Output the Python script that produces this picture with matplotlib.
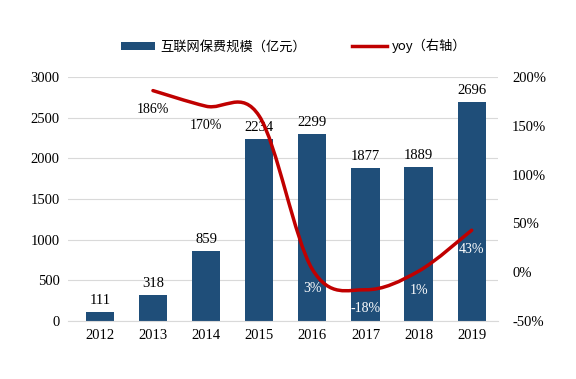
import matplotlib
matplotlib.use('Agg')
import matplotlib.pyplot as plt
from matplotlib.path import Path
from matplotlib.patches import PathPatch, Patch
from matplotlib.lines import Line2D
import numpy as np

years = ['2012', '2013', '2014', '2015', '2016', '2017', '2018', '2019']
premium = [111, 318, 859, 2234, 2299, 1877, 1889, 2696]
yoy_years = ['2013', '2014', '2015', '2016', '2017', '2018', '2019']
yoy = [186, 170, 160, 3, -18, 1, 43]
yoy_labels = ['186%', '170%', '', '3%', '-18%', '1%', '43%']

BAR = '#1f4e79'
RED = '#c00000'
serif = ['Liberation Serif', 'DejaVu Serif']
cjk = ['Noto Sans CJK SC', 'DejaVu Sans']

fig = plt.figure(figsize=(5.76, 3.79), dpi=100)
ax = fig.add_axes([0.118, 0.153, 0.747, 0.644])
x = np.arange(len(years))
ax.bar(x, premium, width=0.53, color=BAR, zorder=2)
ax.set_xlim(-0.6, 7.5)
ax.set_ylim(0, 3000)
ax.set_yticks(range(0, 3001, 500))
ax.grid(axis='y', color='#d9d9d9', linewidth=0.8, zorder=0)
for s in ax.spines.values():
    s.set_visible(False)
ax.spines['bottom'].set_visible(True)
ax.spines['bottom'].set_color('#d9d9d9')
ax.tick_params(length=0, labelsize=10.5, pad=6)
ax.set_xticks(x)
ax.set_xticklabels(years)
for lab in ax.get_xticklabels() + ax.get_yticklabels():
    lab.set_family(serif)
for xi, v in zip(x, premium):
    ax.text(xi, v + 60, str(v), ha='center', va='bottom', fontsize=10.5, family=serif)

ax2 = ax.twinx()
ax2.set_ylim(-50, 200)
ax2.set_yticks(range(-50, 201, 50))
ax2.set_yticklabels([f'{t}%' for t in range(-50, 201, 50)])
for s in ax2.spines.values():
    s.set_visible(False)
ax2.tick_params(length=0, labelsize=10.5, pad=10)
for lab in ax2.get_yticklabels():
    lab.set_family(serif)

# smoothed line (Catmull-Rom drawn as cubic Bezier segments)
px = np.array([years.index(y) for y in yoy_years], dtype=float)
py = np.array(yoy, dtype=float)
pts = np.column_stack([px, py])
verts = [pts[0]]
codes = [Path.MOVETO]
n = len(pts)
for i in range(n - 1):
    p0 = pts[i - 1] if i > 0 else pts[i]
    p1 = pts[i]
    p2 = pts[i + 1]
    p3 = pts[i + 2] if i + 2 < n else pts[i + 1]
    c1 = p1 + (p2 - p0) / 6
    c2 = p2 - (p3 - p1) / 6
    verts += [c1, c2, p2]
    codes += [Path.CURVE4] * 3
ax2.add_patch(PathPatch(Path(verts, codes), facecolor='none', edgecolor=RED,
                        linewidth=2.5, zorder=3, capstyle='round'))

for xi, v, lab in zip(px, py, yoy_labels):
    if not lab:
        continue
    if v > 100:
        ax2.text(xi, v - 13, lab, ha='center', va='top', fontsize=10, family=serif)
    else:
        ax2.text(xi, v - 13, lab, ha='center', va='top', fontsize=10, family=serif, color='white')

handles = [Patch(facecolor=BAR), Line2D([], [], color=RED, linewidth=2.5)]
leg = fig.legend(handles, ['互联网保费规模（亿元）', 'yoy（右轴）'], loc='center',
                 bbox_to_anchor=(0.51, 0.878), ncol=2, frameon=False,
                 prop={'family': cjk, 'size': 9.5}, handlelength=2.6,
                 handleheight=0.5, columnspacing=3.5, handletextpad=0.4)

fig.savefig('out.png', dpi=100)
